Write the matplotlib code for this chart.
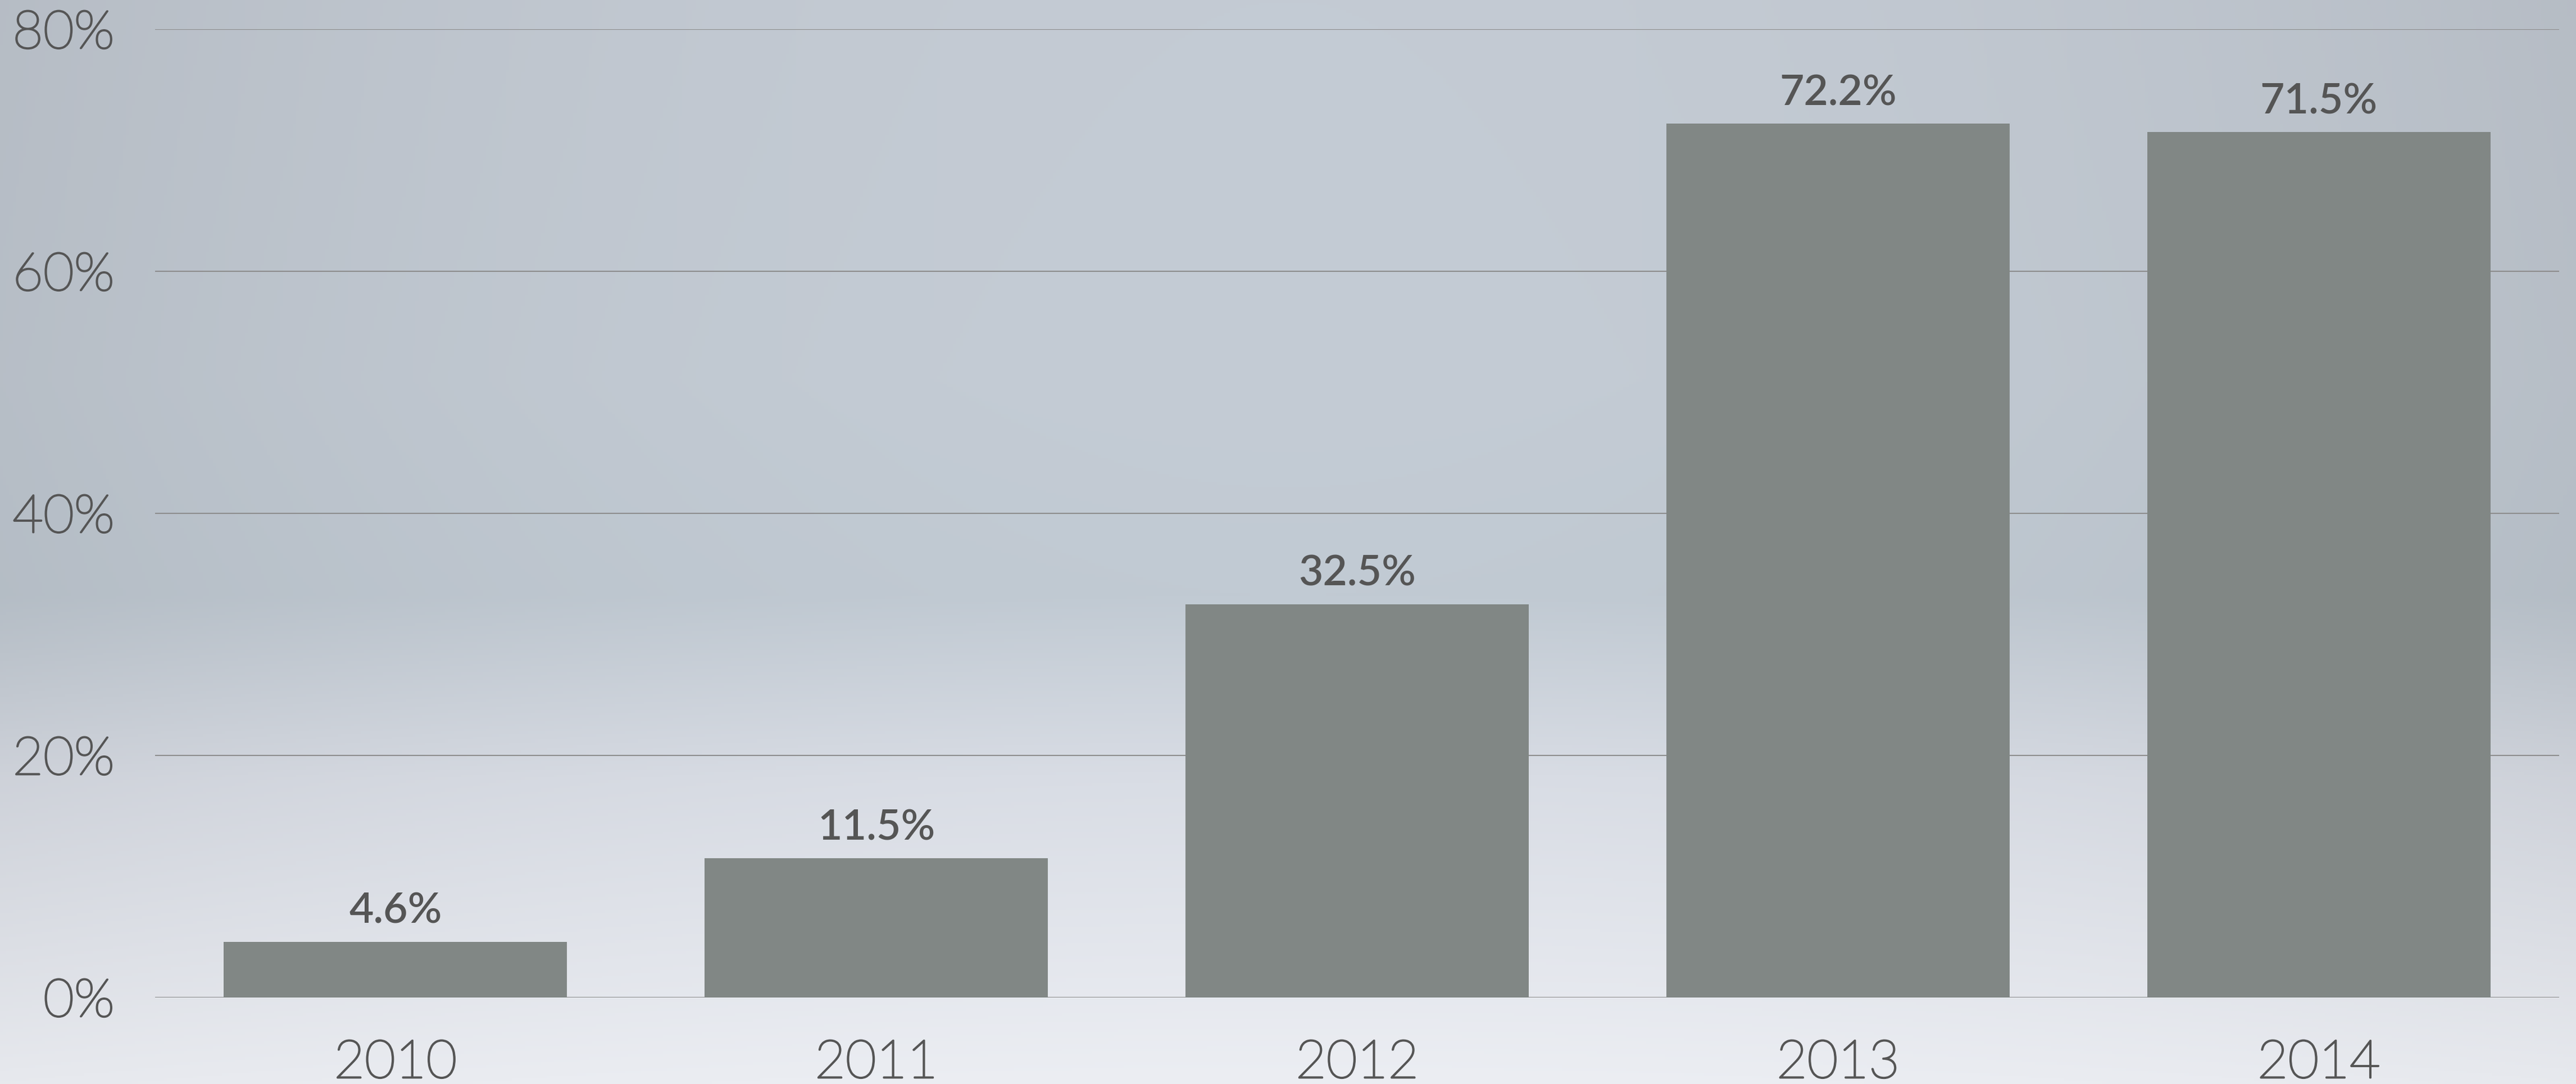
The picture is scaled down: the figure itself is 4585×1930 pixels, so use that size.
import numpy as np
import matplotlib.pyplot as plt
import matplotlib.patheffects as pe
from matplotlib.colors import to_rgb

years = ["2010", "2011", "2012", "2013", "2014"]
shares = [4.6, 11.5, 32.5, 72.2, 71.5]
y_ticks = [0, 20, 40, 60, 80]

bar_color = "#818785"
text_color = "#555555"
grid_color = "#8c8c8c"

fig = plt.figure(figsize=(45.85, 19.31), dpi=100)

# soft bluish backdrop: vertical gradient with darker side edges
stops = [(0.0, "#c4cbd4"), (0.35, "#c4ccd5"), (0.55, "#c1cad3"),
         (0.72, "#d9dde5"), (1.0, "#eceef3")]
h, w = 400, 800
t = np.linspace(0, 1, h)
col = np.zeros((h, 3))
pos = [s[0] for s in stops]
rgbs = np.array([to_rgb(s[1]) for s in stops])
for c in range(3):
    col[:, c] = np.interp(t, pos, rgbs[:, c])
xx = np.linspace(-1, 1, w)
edge = 1 - 0.07 * np.abs(xx) ** 2
fade = np.interp(t, [0, 0.6, 1], [1, 0.9, 0.3])
shade = 1 - np.outer(fade, 1 - edge)
bg = col[:, None, :] * shade[:, :, None]
bg_ax = fig.add_axes([0, 0, 1, 1], zorder=-1)
bg_ax.imshow(bg, aspect="auto", extent=[0, 1, 0, 1], origin="upper")
bg_ax.axis("off")

ax = fig.add_axes([0.0602, 0.0798, 0.9333, 0.8928])
ax.patch.set_alpha(0)

x = np.arange(len(years))
bars = ax.bar(x, shares, width=0.714, color=bar_color, zorder=3)

ax.set_xlim(-0.5, len(years) - 0.5)
ax.set_ylim(0, 80)
ax.set_yticks(y_ticks)
ax.set_yticklabels([f"{v}%" for v in y_ticks])
ax.set_xticks(x)
ax.set_xticklabels(years)

ax.grid(axis="y", color=grid_color, linewidth=1.5, zorder=1)
ax.set_axisbelow(True)
for s in ax.spines.values():
    s.set_visible(False)
ax.tick_params(axis="both", length=0, colors=text_color, labelsize=68)
ax.tick_params(axis="y", pad=52)
ax.tick_params(axis="x", pad=54)
# light face, thickened a little with a same-colour outline
for lbl in ax.get_xticklabels() + ax.get_yticklabels():
    lbl.set_family("Lato")
    lbl.set_fontweight("light")
    lbl.set_path_effects([pe.withStroke(linewidth=2.2, foreground=text_color)])

for b, v in zip(bars, shares):
    ax.annotate(f"{v}%", (b.get_x() + b.get_width() / 2, v),
                xytext=(0, 15), textcoords="offset points",
                ha="center", va="bottom", fontsize=54,
                family="Lato", fontweight="semibold", color=text_color)

fig.savefig("out.png", dpi=100)
